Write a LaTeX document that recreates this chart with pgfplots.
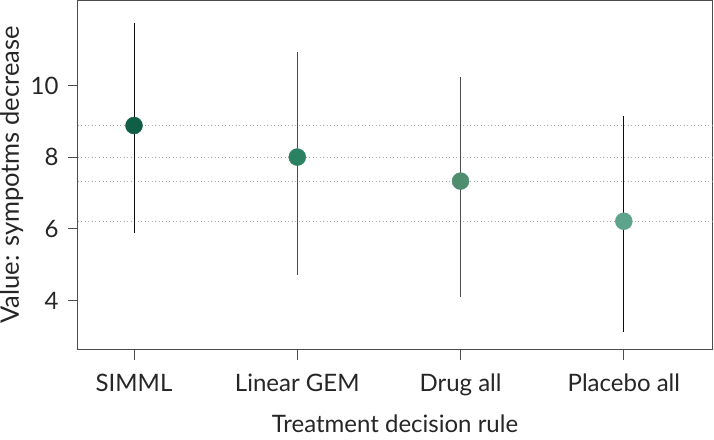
\documentclass[border=0pt]{standalone}
\usepackage{pgfplots}
\pgfplotsset{compat=1.18}
\usepackage{fontspec}
\setmainfont{Lato}
\definecolor{cA}{HTML}{0F5E45}
\definecolor{cB}{HTML}{2A8263}
\definecolor{cC}{HTML}{4F8D6F}
\definecolor{cD}{HTML}{5EA38C}
\begin{document}
\begin{tikzpicture}
\begin{axis}[
  at={(0,0)}, anchor=south west,
  scale only axis, width=634pt, height=349pt,
  xmin=0.657, xmax=4.54, ymin=2.63, ymax=12.37,
  xtick={1,2,3,4}, xticklabels={SIMML,Linear GEM,Drug all,Placebo all},
  ytick={4,6,8,10},
  tick align=outside, major tick length=10pt,
  xtick pos=bottom, ytick pos=left,
  tick style={black!70, line width=0.9pt},
  axis line style={black!70, line width=1pt},
  tick label style={font=\fontsize{24}{28}\selectfont, text=black!85},
  xticklabel style={anchor=base, yshift=-32pt},
  yticklabel style={xshift=-6pt},
  /pgf/number format/assume math mode=true,
  xlabel={Treatment decision rule}, ylabel={Value: sympotms decrease},
  xlabel style={font=\fontsize{24}{28}\selectfont, text=black!85, at={(axis description cs:0.5,-0.2378)}, anchor=base},
  ylabel style={font=\fontsize{25.5}{28}\selectfont, text=black!85, at={(axis description cs:-0.0931,0.5)}, anchor=base},
  clip=false,
]
\addplot[black!35, dash pattern=on 1pt off 2.5pt, line width=0.8pt] coordinates {(0.657,8.88) (4.54,8.88)};
\addplot[black!35, dash pattern=on 1pt off 2.5pt, line width=0.8pt] coordinates {(0.657,8.0) (4.54,8.0)};
\addplot[black!35, dash pattern=on 1pt off 2.5pt, line width=0.8pt] coordinates {(0.657,7.33) (4.54,7.33)};
\addplot[black!35, dash pattern=on 1pt off 2.5pt, line width=0.8pt] coordinates {(0.657,6.21) (4.54,6.21)};
\addplot[only marks, mark=*, mark size=8.5pt, cA, mark options={draw=none, fill=cA}] coordinates {(1,8.88)};
\addplot[only marks, mark=*, mark size=8.5pt, cB, mark options={draw=none, fill=cB}] coordinates {(2,8.0)};
\addplot[only marks, mark=*, mark size=8.5pt, cC, mark options={draw=none, fill=cC}] coordinates {(3,7.33)};
\addplot[only marks, mark=*, mark size=8.5pt, cD, mark options={draw=none, fill=cD}] coordinates {(4,6.21)};
\addplot[draw=none, mark=none,
  error bars/.cd, y dir=both, y explicit, error mark=none,
  error bar style={black!95, line width=0.8pt}]
  coordinates {
   (1,8.88) += (0,2.87) -= (0,3.01)
   (4,6.21) += (0,2.95) -= (0,3.09)
  };
\addplot[draw=none, mark=none,
  error bars/.cd, y dir=both, y explicit, error mark=none,
  error bar style={black!70, line width=0.8pt}]
  coordinates {
   (2,8.0) += (0,2.93) -= (0,3.29)
   (3,7.33) += (0,2.90) -= (0,3.23)
  };
\end{axis}
\pgfresetboundingbox
\useasboundingbox (-78pt,-90pt) rectangle (636pt,349.5pt);
\end{tikzpicture}
\end{document}
